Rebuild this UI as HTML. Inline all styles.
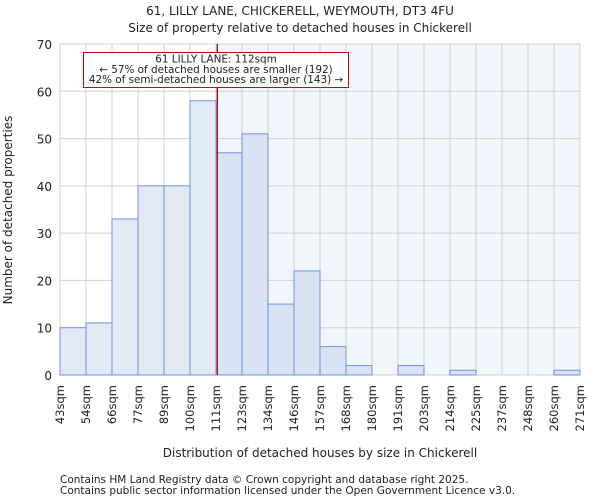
<!DOCTYPE html>
<html><head><meta charset="utf-8"><style>
body{margin:0;background:#fff;font-family:"DejaVu Sans","Liberation Sans",sans-serif;}
svg text{font-family:"DejaVu Sans","Liberation Sans",sans-serif;fill:#222;}
</style></head><body>
<svg id="chart" width="600" height="500" xmlns="http://www.w3.org/2000/svg">
<rect x="0" y="0" width="600" height="500" fill="#fff"/>
<text x="300" y="15" font-size="12" text-anchor="middle">61, LILLY LANE, CHICKERELL, WEYMOUTH, DT3 4FU</text>
<text x="300" y="32" font-size="12" text-anchor="middle">Size of property relative to detached houses in Chickerell</text>
<g id="plot"></g>
<text x="320" y="457" font-size="12" text-anchor="middle">Distribution of detached houses by size in Chickerell</text>
<text x="12" y="210" font-size="12" text-anchor="middle" transform="rotate(-90 12 210)">Number of detached properties</text>
<text x="60" y="483" font-size="10.5">Contains HM Land Registry data © Crown copyright and database right 2025.</text>
<text x="60" y="494" font-size="10.5">Contains public sector information licensed under the Open Government Licence v3.0.</text>
</svg>
<script>
const edgeLabels=["43sqm","54sqm","66sqm","77sqm","89sqm","100sqm","111sqm","123sqm","134sqm","146sqm","157sqm","168sqm","180sqm","191sqm","203sqm","214sqm","225sqm","237sqm","248sqm","260sqm","271sqm"];
const counts=[10,11,33,40,40,58,47,51,15,22,6,2,0,2,0,1,0,0,0,1];
const yTicks=[0,10,20,30,40,50,60,70];
const propertyBinPos=6.05;
const NS="http://www.w3.org/2000/svg";
const L=60,R=580,T=44,B=375,yMax=70;
const nb=counts.length,bw=(R-L)/nb;
const xs=i=>L+i*bw;
const ys=v=>B-(v/yMax)*(B-T);
const g=document.getElementById('plot');
function mk(t,a){const e=document.createElementNS(NS,t);for(const k in a)e.setAttribute(k,a[k]);g.appendChild(e);return e;}
const px=xs(propertyBinPos);
let e=mk('rect',{x:px,y:T,width:R-px,height:B-T,fill:'#f3f5fd'});


for(let i=0;i<=nb;i++){e=mk('line',{x1:xs(i),x2:xs(i),y1:T,y2:B,stroke:'#d0d0d0','stroke-width':1});

}
yTicks.forEach(v=>{e=mk('line',{x1:L,x2:R,y1:ys(v),y2:ys(v),stroke:'#d0d0d0','stroke-width':1});


e=mk('text',{x:L-8,y:ys(v)+5,'font-size':12,'text-anchor':'end'});e.textContent=v;

});
counts.forEach((c,i)=>{if(c<=0)return;
e=mk('rect',{x:xs(i),y:ys(c),width:bw,height:B-ys(c),fill:i<6?'#e2e9f5':'#d9e3f4',stroke:'#6b96dc','stroke-width':1});

});
edgeLabels.forEach((lab,i)=>{const x=xs(i)+4;
e=mk('text',{x:x,y:385,'font-size':11.5,'text-anchor':'end',transform:`rotate(-90 ${x} 385)`});e.textContent=lab;

});
e=mk('line',{x1:px,x2:px,y1:T,y2:B,stroke:'#bb0000','stroke-width':1.3});


e=mk('rect',{x:83.5,y:52.5,width:265,height:35,fill:'#fff',stroke:'#cc0000','stroke-width':1});


["61 LILLY LANE: 112sqm","← 57% of detached houses are smaller (192)","42% of semi-detached houses are larger (143) →"].forEach((s,k)=>{
e=mk('text',{x:216,y:62.5+k*10.3,'font-size':10.4,'text-anchor':'middle'});e.textContent=s;

});
</script>
</body></html>
